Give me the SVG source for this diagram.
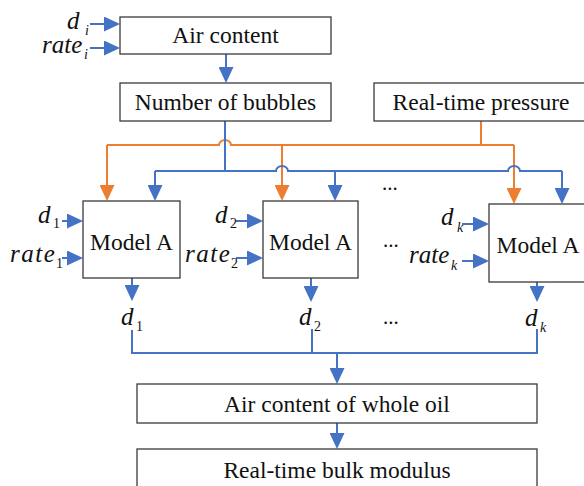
<svg xmlns="http://www.w3.org/2000/svg" width="584" height="486" viewBox="0 0 584 486">
  <defs>
    <style>
      .box { fill: #ffffff; stroke: #3a3a3a; stroke-width: 1.3; }
      text { font-family: 'Liberation Serif', 'DejaVu Serif', serif; fill: #111111; }
      .lbl { font-size: 23.5px; text-anchor: middle; }
      .var { font-style: italic; font-size: 25px; }
      .wide { letter-spacing: 1.5px; }
      .sub { font-size: 14px; }
      .subi { font-style: italic; font-size: 14px; }
      .dots { font-size: 21px; }
      .blue { fill: none; stroke: #4472C4; stroke-width: 2; }
      .orange { fill: none; stroke: #ED7D31; stroke-width: 2; }
      .ab { marker-end: url(#headBlue); }
      .ao { marker-end: url(#headOrange); }
    </style>
    <marker id="headBlue" viewBox="0 0 16 15" refX="8" refY="7.5" markerWidth="16" markerHeight="15" markerUnits="userSpaceOnUse" orient="auto">
      <path d="M0,0 L16,7.5 L0,15 Z" fill="#4472C4"/>
    </marker>
    <marker id="headOrange" viewBox="0 0 16 15" refX="8" refY="7.5" markerWidth="16" markerHeight="15" markerUnits="userSpaceOnUse" orient="auto">
      <path d="M0,0 L16,7.5 L0,15 Z" fill="#ED7D31"/>
    </marker>
  </defs>

  <!-- connectors -->
  <g id="connectors">
    <!-- inputs to the air content block -->
    <path class="blue ab" d="M90,24 H112"/>
    <path class="blue ab" d="M90,48 H112"/>
    <path class="blue ab" d="M226,54 V75"/>

    <!-- pressure bus (orange), hops over the bubble line -->
    <path class="orange" d="M481,121 V145"/>
    <path class="orange" d="M107,145 H219 a6,5 0 0 1 12,0 H514"/>
    <path class="orange ao" d="M107,145 V193"/>
    <path class="orange ao" d="M282,145 V193"/>
    <path class="orange ao" d="M514,145 V196"/>

    <!-- bubble count bus (blue), hops over the pressure drops -->
    <path class="blue" d="M225,121 V171"/>
    <path class="blue" d="M155,171 H276 a6,5 0 0 1 12,0 H508 a6,5 0 0 1 12,0 H562"/>
    <path class="blue ab" d="M155,171 V193"/>
    <path class="blue ab" d="M335,171 V193"/>
    <path class="blue ab" d="M562,171 V196"/>

    <!-- per-model inputs -->
    <path class="blue ab" d="M62,221 H75"/>
    <path class="blue ab" d="M62,258 H75"/>
    <path class="blue ab" d="M236,221 H255"/>
    <path class="blue ab" d="M236,258 H255"/>
    <path class="blue ab" d="M462,224 H481"/>
    <path class="blue ab" d="M462,261 H481"/>

    <!-- per-model outputs -->
    <path class="blue ab" d="M132,278 V293"/>
    <path class="blue ab" d="M311,278 V294"/>
    <path class="blue ab" d="M537,282 V294"/>

    <!-- collecting bus -->
    <path class="blue" d="M132,330 V353 H537 V329"/>
    <path class="blue" d="M312,329 V353"/>
    <path class="blue ab" d="M337,353 V376"/>
    <path class="blue ab" d="M337,423 V441"/>
  </g>

  <!-- input labels for the air content block -->
  <g id="in-i">
    <text class="var" x="67" y="29">d</text>
    <text class="subi" x="85" y="35">i</text>
    <text class="var" x="42" y="53">rate</text>
    <text class="subi" x="84" y="59">i</text>
  </g>

  <g id="air-content">
    <rect class="box" x="120" y="17" width="211" height="37"/>
    <text class="lbl" x="225.5" y="43">Air content</text>
  </g>

  <g id="bubbles">
    <rect class="box" x="120" y="83" width="211" height="38"/>
    <text class="lbl" x="225.5" y="110">Number of bubbles</text>
  </g>

  <g id="pressure">
    <rect class="box" x="374" y="83" width="214" height="38"/>
    <text class="lbl" x="481" y="110">Real-time pressure</text>
  </g>

  <g id="model-1">
    <rect class="box" x="83" y="201" width="97" height="77"/>
    <text class="lbl" x="131.5" y="250">Model A</text>
    <text class="var" x="38" y="223">d</text>
    <text class="sub" x="53" y="228">1</text>
    <text class="var wide" x="10" y="262">rate</text>
    <text class="sub" x="56" y="268">1</text>
    <text class="var" x="121" y="325">d</text>
    <text class="sub" x="136" y="331">1</text>
  </g>

  <g id="model-2">
    <rect class="box" x="263" y="201" width="95" height="77"/>
    <text class="lbl" x="310.5" y="250">Model A</text>
    <text class="var" x="215" y="223">d</text>
    <text class="sub" x="230" y="228">2</text>
    <text class="var wide" x="185" y="262">rate</text>
    <text class="sub" x="231" y="268">2</text>
    <text class="var" x="299" y="325">d</text>
    <text class="sub" x="314" y="331">2</text>
  </g>

  <g id="model-k">
    <rect class="box" x="489" y="204" width="98" height="78"/>
    <text class="lbl" x="538" y="253">Model A</text>
    <text class="var" x="441" y="225">d</text>
    <text class="subi" x="457" y="232">k</text>
    <text class="var" x="409" y="263">rate</text>
    <text class="subi" x="451" y="270">k</text>
    <text class="var" x="525" y="326">d</text>
    <text class="subi" x="540" y="332">k</text>
  </g>

  <g id="ellipses">
    <text class="dots" x="382" y="190">...</text>
    <text class="dots" x="383" y="247">...</text>
    <text class="dots" x="383" y="324">...</text>
  </g>

  <g id="whole-oil">
    <rect class="box" x="137" y="384" width="400" height="39"/>
    <text class="lbl" x="337" y="412">Air content of whole oil</text>
  </g>

  <g id="bulk-modulus">
    <rect class="box" x="137" y="449" width="400" height="45"/>
    <text class="lbl" x="337" y="478">Real-time bulk modulus</text>
  </g>
</svg>
